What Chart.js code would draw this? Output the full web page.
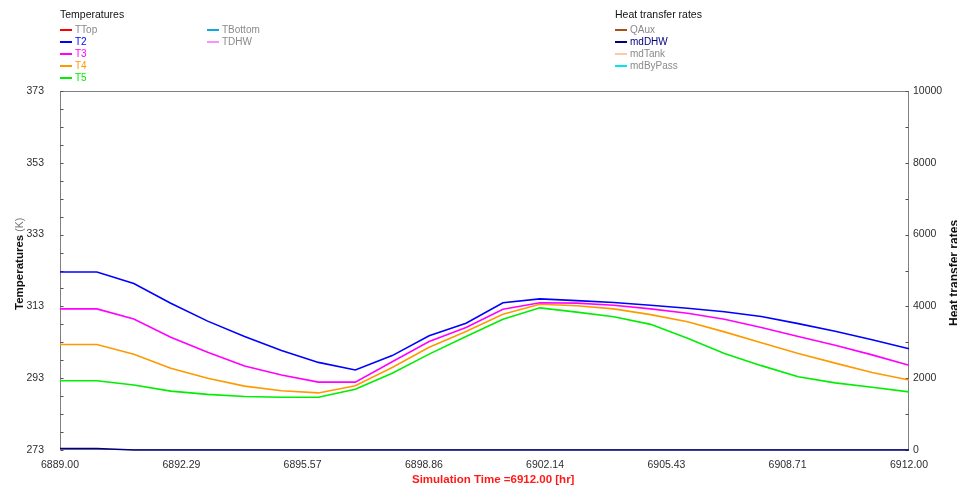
<!DOCTYPE html>
<html>
<head>
<meta charset="utf-8">
<script src="https://cdn.jsdelivr.net/npm/chart.js@4.4.1/dist/chart.umd.min.js"></script>
<style>
  html, body { margin: 0; padding: 0; background: #fff; }
  #wrap { position: relative; width: 957px; height: 488px; font-family: 'Liberation Sans', Arial, sans-serif; overflow: hidden; }
  #chart { position: absolute; left: 0; top: 0; }
  .txt { position: absolute; white-space: nowrap; line-height: 12px; }
  .sw { position: absolute; width: 12px; height: 2px; }
  .vtitle { position: absolute; white-space: nowrap; transform-origin: 0 0; line-height: 14px; }
</style>
</head>
<body>
<div id="wrap">
  <canvas id="chart" width="957" height="488"></canvas>
</div>
<script>
// Simulation hours (one sample per hour)
const time = [6889, 6890, 6891, 6892, 6893, 6894, 6895, 6896, 6897, 6898, 6899, 6900,
              6901, 6902, 6903, 6904, 6905, 6906, 6907, 6908, 6909, 6910, 6911, 6912];

// Tank node temperatures (K)
const T2 = [322.6, 322.6, 319.4, 313.9, 308.9, 304.6, 300.7, 297.4, 295.3, 299.3, 304.8, 308.3,
            314.0, 315.1, 314.6, 314.1, 313.3, 312.5, 311.5, 310.2, 308.2, 306.1, 303.7, 301.2];
const T3 = [312.3, 312.3, 309.5, 304.4, 300.2, 296.4, 293.9, 291.9, 291.9, 297.6, 303.2, 307.1,
            312.2, 314.0, 313.9, 313.3, 312.3, 311.1, 309.4, 307.1, 304.6, 302.2, 299.5, 296.6];
const T4 = [302.4, 302.4, 299.7, 295.8, 293.0, 290.8, 289.5, 288.9, 290.9, 296.0, 301.6, 306.0,
            310.8, 313.6, 313.2, 312.3, 310.7, 308.7, 305.9, 302.9, 299.9, 297.2, 294.6, 292.5];
const T5 = [292.3, 292.3, 291.1, 289.4, 288.5, 287.9, 287.7, 287.7, 289.9, 294.4, 299.7, 304.6,
            309.4, 312.6, 311.4, 310.1, 308.0, 304.1, 299.9, 296.5, 293.4, 291.7, 290.5, 289.2];
const TTop = [];
const TBottom = [];
const TDHW = [];

// Heat transfer rates
const QAux = [];
const mdDHW = [40, 40, 0, 0, 0, 0, 0, 0, 0, 0, 0, 0,
               0, 0, 0, 0, 0, 0, 0, 0, 0, 0, 0, 0];
const mdTank = [];
const mdByPass = [];

// Axis ticks
const timeTicks = [6889.00, 6892.29, 6895.57, 6898.86, 6902.14, 6905.43, 6908.71, 6912.00];
const tempTicks = [273, 293, 313, 333, 353, 373];
const rateTicks = [0, 2000, 4000, 6000, 8000, 10000];
const tempMinorStep = 5;
const rateMinorStep = 1000;

const FONT = "'Liberation Sans', Arial, sans-serif";
Chart.defaults.font.family = FONT;

const pts = arr => arr.map((v, i) => ({ x: time[i], y: v }));

function series(label, data, color, axis, group) {
  return {
    label, data: pts(data), borderColor: color, backgroundColor: color,
    yAxisID: axis, borderWidth: 1.6, pointRadius: 0, tension: 0, fill: false,
    clip: 3, group
  };
}

const datasets = [
  series('TTop', TTop, '#ff0000', 'y', 'Temperatures'),
  series('T2', T2, '#0000ff', 'y', 'Temperatures'),
  series('T3', T3, '#ff00ff', 'y', 'Temperatures'),
  series('T4', T4, '#ff9900', 'y', 'Temperatures'),
  series('T5', T5, '#00ee00', 'y', 'Temperatures'),
  series('TBottom', TBottom, '#10a8e0', 'y', 'Temperatures'),
  series('TDHW', TDHW, '#ff90ff', 'y', 'Temperatures'),
  series('QAux', QAux, '#a8501c', 'y1', 'Heat transfer rates'),
  series('mdDHW', mdDHW, '#000080', 'y1', 'Heat transfer rates'),
  series('mdTank', mdTank, '#ffc8a8', 'y1', 'Heat transfer rates'),
  series('mdByPass', mdByPass, '#00e8e8', 'y1', 'Heat transfer rates')
];

// Plot frame plus short inward tick marks on both value axes
const framePlugin = {
  id: 'frame',
  beforeDatasetsDraw(chart) {
    const { ctx, chartArea: a, scales } = chart;
    const L = Math.round(a.left) + 0.5, R = Math.round(a.right) - 0.5;
    const T = Math.round(a.top) + 0.5, B = Math.round(a.bottom) - 0.5;
    ctx.save();
    ctx.strokeStyle = '#808080';
    ctx.lineWidth = 1;
    ctx.strokeRect(L, T, R - L, B - T);
    ctx.strokeStyle = '#505050';
    ctx.beginPath();
    const ty = scales.y;
    for (let v = ty.min; v <= ty.max; v += tempMinorStep) {
      const y = Math.round(ty.getPixelForValue(v)) + 0.5;
      ctx.moveTo(L, y); ctx.lineTo(L + 3, y);
    }
    const ry = scales.y1;
    for (let v = ry.min; v <= ry.max; v += rateMinorStep) {
      const y = Math.round(ry.getPixelForValue(v)) + 0.5;
      ctx.moveTo(R - 3, y); ctx.lineTo(R, y);
    }
    ctx.stroke();
    ctx.restore();
  }
};

const tickFont = { size: 10.5, family: FONT };
const tickColor = '#2e2e2e';

const chart = new Chart(document.getElementById('chart'), {
  type: 'line',
  data: { datasets },
  plugins: [framePlugin],
  options: {
    responsive: false,
    animation: false,
    devicePixelRatio: 1,
    layout: { padding: { top: 91, left: 0, right: 0, bottom: 0 } },
    plugins: { legend: { display: false }, tooltip: { enabled: false } },
    scales: {
      x: {
        type: 'linear', position: 'bottom',
        min: timeTicks[0], max: timeTicks[timeTicks.length - 1],
        afterBuildTicks: s => { s.ticks = timeTicks.map(v => ({ value: v })); },
        afterFit: s => { s.height = 38; },
        grid: { display: false, drawTicks: false },
        border: { display: false },
        ticks: { autoSkip: false, maxRotation: 0, padding: 9, font: tickFont, color: tickColor,
                 callback: v => Number(v).toFixed(2) }
      },
      y: {
        type: 'linear', position: 'left',
        min: tempTicks[0], max: tempTicks[tempTicks.length - 1],
        afterBuildTicks: s => { s.ticks = tempTicks.map(v => ({ value: v })); },
        afterFit: s => { s.width = 60; },
        grid: { display: false, drawTicks: false },
        border: { display: false },
        ticks: { autoSkip: false, padding: 16, font: tickFont, color: tickColor }
      },
      y1: {
        type: 'linear', position: 'right',
        min: rateTicks[0], max: rateTicks[rateTicks.length - 1],
        afterBuildTicks: s => { s.ticks = rateTicks.map(v => ({ value: v })); },
        afterFit: s => { s.width = 48; },
        grid: { display: false, drawTicks: false },
        border: { display: false },
        ticks: { autoSkip: false, padding: 4, font: tickFont, color: tickColor,
                 callback: v => String(v) }
      }
    }
  }
});

// Legend blocks and axis titles as positioned text
const wrap = document.getElementById('wrap');
function addText(text, left, top, css) {
  const d = document.createElement('div');
  d.className = 'txt';
  d.textContent = text;
  d.style.left = left + 'px';
  d.style.top = top + 'px';
  Object.assign(d.style, css || {});
  wrap.appendChild(d);
  return d;
}
function addSwatch(color, left, centerY) {
  const d = document.createElement('div');
  d.className = 'sw';
  d.style.background = color;
  d.style.left = left + 'px';
  d.style.top = (centerY - 1) + 'px';
  wrap.appendChild(d);
}

const legendBlocks = [
  { title: 'Temperatures', left: 60, columns: [60, 207], rowsPerColumn: 5 },
  { title: 'Heat transfer rates', left: 615, columns: [615], rowsPerColumn: 5 }
];
legendBlocks.forEach(block => {
  addText(block.title, block.left, 8, { fontSize: '10.5px', color: '#111' });
  const items = chart.data.datasets.filter(d => d.group === block.title);
  items.forEach((ds, i) => {
    const col = Math.floor(i / block.rowsPerColumn);
    const row = i % block.rowsPerColumn;
    const cy = 29.5 + row * 12;
    const x = block.columns[col];
    addSwatch(ds.borderColor, x, cy);
    const hasData = ds.data.length > 0;
    addText(ds.label, x + 15, cy - 6, { fontSize: '10px', color: hasData ? ds.borderColor : '#8a8a8a' });
  });
});

// Left axis title: bold name with unit in lighter text, reading upwards
const lt = document.createElement('div');
lt.className = 'vtitle';
lt.innerHTML = '<span style="font-weight:bold;font-size:11.5px;color:#111">Temperatures</span><span style="font-size:10.5px;color:#777"> (K)</span>';
wrap.appendChild(lt);
const ltw = lt.offsetWidth;
lt.style.left = (18 - 7) + 'px';
lt.style.top = (264 + ltw / 2) + 'px';
lt.style.transform = 'rotate(-90deg)';

const rt = document.createElement('div');
rt.className = 'vtitle';
rt.innerHTML = '<span style="font-weight:bold;font-size:12px;color:#111">Heat transfer rates</span>';
wrap.appendChild(rt);
const rtw = rt.offsetWidth;
rt.style.left = (953 - 7) + 'px';
rt.style.top = (273 + rtw / 2) + 'px';
rt.style.transform = 'rotate(-90deg)';

// Bottom title
const xt = addText('Simulation Time =6912.00 [hr]', 0, 473, { fontSize: '11.5px', fontWeight: 'bold', color: '#ff1a1a' });
xt.style.left = (493 - xt.offsetWidth / 2) + 'px';
</script>
</body>
</html>
